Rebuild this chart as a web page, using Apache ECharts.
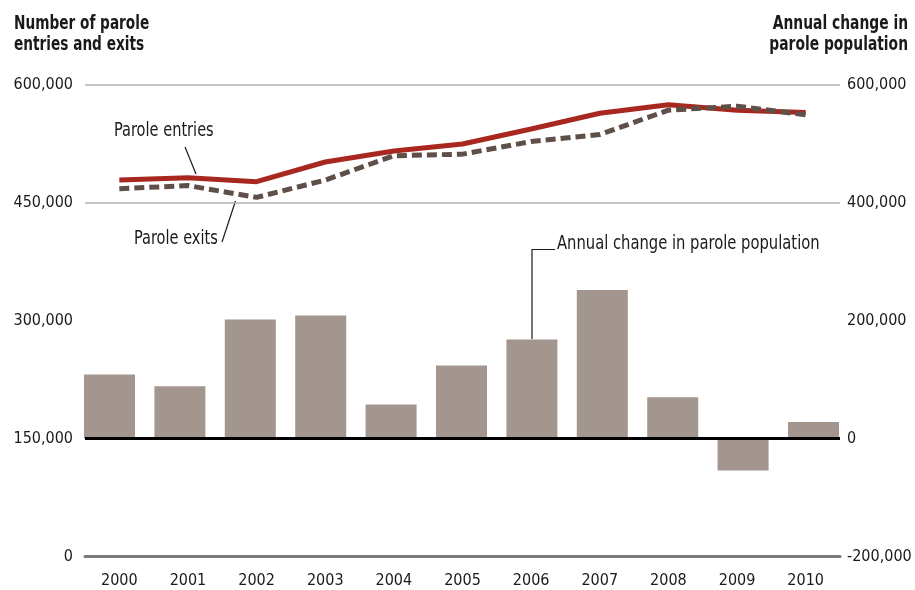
<!DOCTYPE html>
<html>
<head>
<meta charset="utf-8">
<script src="https://cdn.jsdelivr.net/npm/echarts@6/dist/echarts.min.js"></script>
<style>
html,body{margin:0;padding:0;background:#fff;}
#chart{width:915px;height:590px;}
</style>
</head>
<body>
<div id="chart"></div>
<script>
var years = ['2000','2001','2002','2003','2004','2005','2006','2007','2008','2009','2010'];
var paroleEntries = [479000, 482000, 477000, 502000, 516000, 525000, 544000, 564000, 575000, 568000, 565000];
var paroleExits   = [468000, 472000, 457000, 479000, 510000, 512000, 528000, 537000, 568000, 573000, 562000];
var annualChange  = [109000, 89000, 202000, 209000, 58000, 124000, 168000, 252000, 70000, -54000, 28000];
var leftTicks = [0, 150000, 300000, 450000, 600000];
var rightTicks = [-200000, 0, 200000, 400000, 600000];

var FONT = '"DejaVu Sans Condensed","Liberation Sans Narrow",sans-serif';
var TXT = '#1a1a1a';
function fmt(v){ return v.toLocaleString('en-US'); }

var chart = echarts.init(document.getElementById('chart'), null, {renderer:'canvas'});
var option = {
  backgroundColor: '#fff',
  animation: false,
  textStyle: {fontFamily: FONT},
  grid: [
    {left: 85, right: 75, top: 85, bottom: 33.5, containLabel: false, outerBoundsMode: 'none'},
    {left: 74.3, right: 66.3, top: 85, bottom: 33.5, containLabel: false, outerBoundsMode: 'none'}
  ],
  xAxis: [
    {type: 'category', gridIndex: 0, data: years, boundaryGap: true,
     axisLine: {show: true, onZero: false, lineStyle: {color: '#7a7a7a', width: 3}},
     axisTick: {show: false},
     axisLabel: {color: TXT, fontFamily: FONT, fontSize: 16, margin: 16}},
    {type: 'category', gridIndex: 1, data: years, show: false}
  ],
  yAxis: [
    {type: 'value', gridIndex: 0, min: leftTicks[0], max: leftTicks[leftTicks.length-1], interval: 150000,
     axisLine: {show: false}, axisTick: {show: false}, splitLine: {show: false},
     axisLabel: {color: TXT, fontFamily: FONT, fontSize: 16, margin: 12, formatter: fmt}},
    {type: 'value', gridIndex: 0, position: 'right', min: rightTicks[0], max: rightTicks[rightTicks.length-1], interval: 200000,
     axisLine: {show: false}, axisTick: {show: false}, splitLine: {show: false},
     axisLabel: {color: TXT, fontFamily: FONT, fontSize: 16, margin: 7, formatter: fmt}},
    {type: 'value', gridIndex: 1, min: rightTicks[0], max: rightTicks[rightTicks.length-1], interval: 200000, show: false, splitLine: {show: false}}
  ],
  series: [
    {name: 'Annual change in parole population', type: 'bar', xAxisIndex: 1, yAxisIndex: 2,
     data: annualChange, barWidth: 51, z: 1,
     itemStyle: {color: '#a2968e'}},
    {name: 'Parole exits', type: 'line', xAxisIndex: 0, yAxisIndex: 0, data: paroleExits,
     symbol: 'none', z: 4,
     lineStyle: {color: '#5e5048', width: 5, type: [10, 5]},
     markLine: {silent: true, symbol: 'none', label: {show: false},
       lineStyle: {color: '#000', width: 3, type: 'solid'},
       data: [{yAxis: 150000}]}},
    {name: 'Parole entries', type: 'line', xAxisIndex: 0, yAxisIndex: 0, data: paroleEntries,
     symbol: 'none', z: 3,
     lineStyle: {color: '#a8281f', width: 5},
     markLine: {silent: true, symbol: 'none', label: {show: false},
       lineStyle: {color: '#b3b3b3', width: 1.5, type: 'solid'},
       data: [{yAxis: 450000}, {yAxis: 600000}]}}
  ],
  graphic: [
    {type: 'text', x: 14, y: 13, scaleX: 0.76, style: {text: 'Number of parole\nentries and exits', fill: TXT,
      font: 'bold 20px ' + FONT, lineHeight: 21}},
    {type: 'text', x: 908, y: 13, scaleX: 0.77, style: {text: 'Annual change in\nparole population', fill: TXT,
      font: 'bold 20px ' + FONT, lineHeight: 21, align: 'right'}},
    {type: 'text', x: 114, y: 121, scaleX: 0.81, style: {text: 'Parole entries', fill: TXT, font: '20px ' + FONT}},
    {type: 'line', shape: {x1: 185, y1: 147, x2: 196, y2: 174}, style: {stroke: '#1a1a1a', lineWidth: 1.2}},
    {type: 'text', x: 134, y: 229, scaleX: 0.81, style: {text: 'Parole exits', fill: TXT, font: '20px ' + FONT}},
    {type: 'line', shape: {x1: 222, y1: 242, x2: 235.5, y2: 201}, style: {stroke: '#1a1a1a', lineWidth: 1.2}},
    {type: 'text', x: 557, y: 234, scaleX: 0.82, style: {text: 'Annual change in parole population', fill: TXT, font: '20px ' + FONT}},
    {type: 'polyline', shape: {points: [[555, 249.5], [532, 249.5], [532, 339]]}, style: {stroke: '#1a1a1a', lineWidth: 1.2, fill: null}}
  ]
};
chart.setOption(option);
</script>
</body>
</html>
